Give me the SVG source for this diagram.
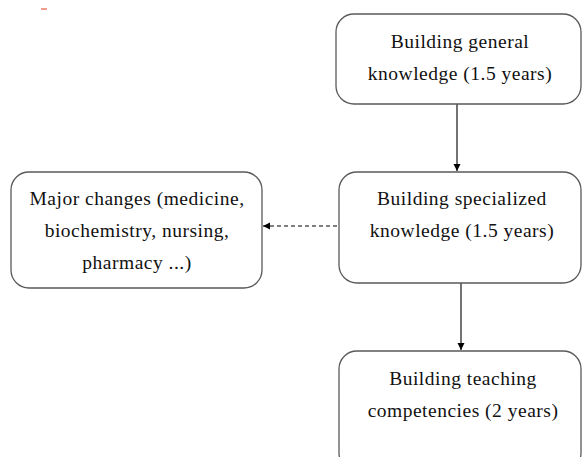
<svg xmlns="http://www.w3.org/2000/svg" width="582" height="457" viewBox="0 0 582 457">
<style>
.box{fill:#fff;stroke:#5a5a5a;stroke-width:1.3}
.t{font-family:"Times New Roman","Liberation Serif",Tinos,"DejaVu Serif",serif;font-size:19.5px;letter-spacing:0.5px;fill:#111;text-anchor:middle}
.c{stroke:#000;stroke-width:1.1;fill:none}
</style>
<defs>
<marker id="ah" markerWidth="8" markerHeight="8" refX="7" refY="4" orient="auto" markerUnits="userSpaceOnUse">
<path d="M0,0.5 L7,4 L0,7.5 Z" fill="#000"/>
</marker>
</defs>
<rect width="582" height="457" fill="#fff"/>
<line x1="41" y1="9" x2="47" y2="9" stroke="#e03a1e" stroke-width="1"/>
<g id="connectors">
<line class="c" x1="457" y1="104" x2="457" y2="171" marker-end="url(#ah)"/>
<line class="c" x1="461" y1="283" x2="461" y2="350" marker-end="url(#ah)"/>
<line class="c" x1="337" y1="226" x2="263" y2="226" stroke-dasharray="4,3" marker-end="url(#ah)"/>
</g>
<g id="general">
<rect class="box" x="336" y="14" width="245" height="90" rx="18"/>
<text class="t" x="460" y="48">Building general</text>
<text class="t" x="460" y="80">knowledge (1.5 years)</text>
</g>
<g id="specialized">
<rect class="box" x="339" y="172" width="242" height="111" rx="18"/>
<text class="t" x="462" y="205">Building specialized</text>
<text class="t" x="462" y="237">knowledge (1.5 years)</text>
</g>
<g id="major">
<rect class="box" x="11" y="172" width="251" height="116" rx="18"/>
<text class="t" x="137" y="205">Major changes (medicine,</text>
<text class="t" x="137" y="237">biochemistry, nursing,</text>
<text class="t" x="137" y="269">pharmacy ...)</text>
</g>
<g id="teaching">
<rect class="box" x="339" y="351" width="242" height="120" rx="18"/>
<text class="t" x="463" y="385">Building teaching</text>
<text class="t" x="463" y="417">competencies (2 years)</text>
</g>
</svg>
